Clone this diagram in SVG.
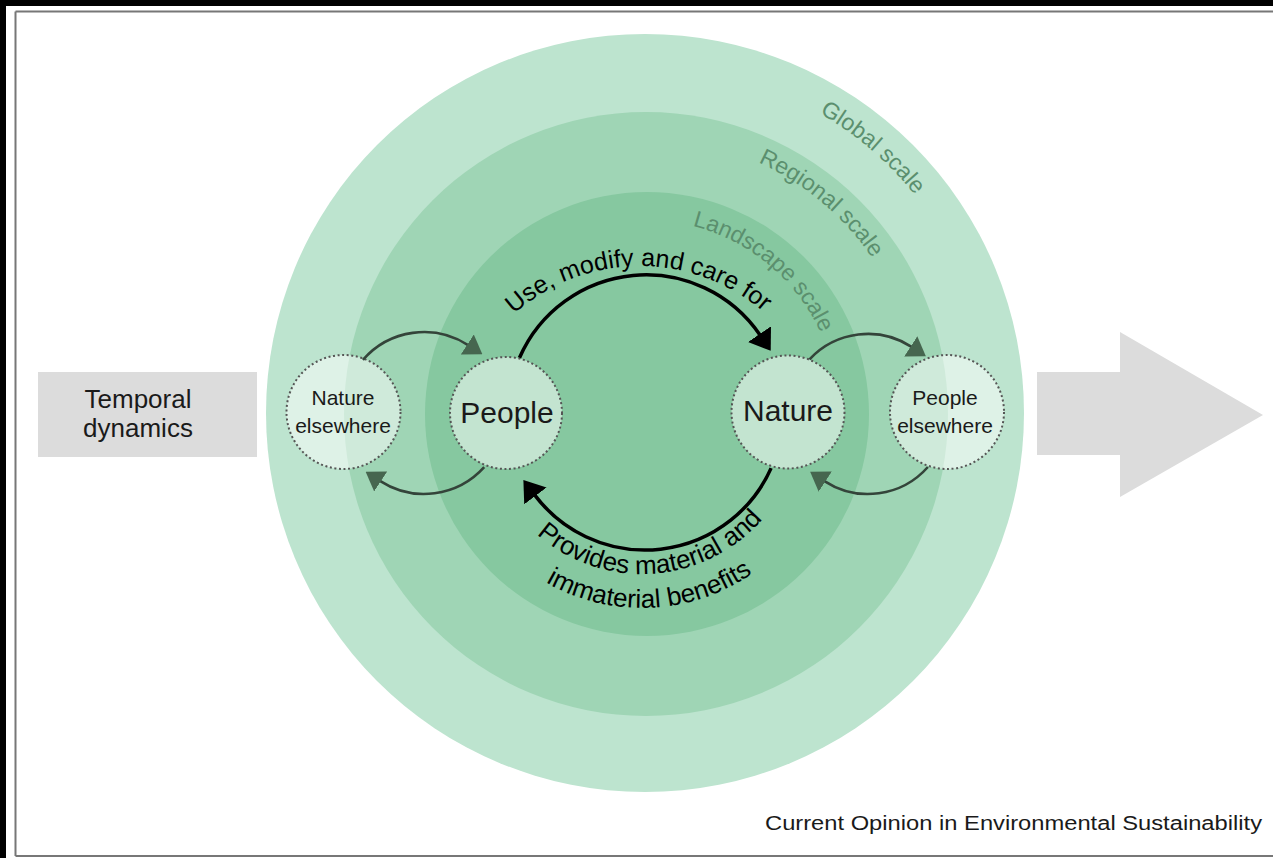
<svg xmlns="http://www.w3.org/2000/svg" width="1273" height="858" viewBox="0 0 1273 858">
  <style>
    text { font-family: "Liberation Sans", Arial, sans-serif; }
    .node { fill: #ffffff; fill-opacity: 0.5; stroke: #555; stroke-width: 2; stroke-dasharray: 2 2.6; }
    .nlabel { fill: #1a1a1a; text-anchor: middle; }
    .scale { fill: #5b8f6e; font-size: 23px; text-anchor: middle; }
    .main { fill: none; stroke: #000; stroke-width: 3.5; marker-end: url(#bigHead); }
    .side { fill: none; stroke: #34443a; stroke-width: 2.6; marker-end: url(#smallHead); }
    .arclabel { fill: #000; font-size: 25px; text-anchor: middle; }
    .arclabel2 { fill: #000; font-size: 26px; text-anchor: middle; }
  </style>
  <defs>
    <marker id="bigHead" markerUnits="userSpaceOnUse" viewBox="0 0 20 28" refX="1" refY="14" markerWidth="20" markerHeight="28" orient="auto">
      <path d="M0,0 L20,14 L0,28 Z" fill="#000"/>
    </marker>
    <marker id="smallHead" markerUnits="userSpaceOnUse" viewBox="0 0 18 24" refX="1" refY="12" markerWidth="18" markerHeight="24" orient="auto">
      <path d="M0,0 L18,12 L0,24 Z" fill="#46664f"/>
    </marker>
    <path id="pGlobal" d="M645,66 A347,347 0 0 1 986.7,352.8"/>
    <path id="pRegional" d="M645,138 A275,275 0 0 1 915.8,365.2"/>
    <path id="pLandscape" d="M611.5,222.9 A193,193 0 0 1 837.3,396.2"/>
    <path id="pTop" d="M451,455 A189,189 0 0 1 829,455"/>
    <path id="pBot1" d="M482,414 A160,160 0 0 0 802,414"/>
    <path id="pBot2" d="M448,414 A194,194 0 0 0 836,414"/>
  </defs>

  <!-- page frame -->
  <rect x="0" y="0" width="1273" height="858" fill="#ffffff"/>
  <rect x="0" y="0" width="1273" height="6" fill="#000"/>
  <rect x="0" y="0" width="6" height="858" fill="#000"/>
  <line x1="15.5" y1="11.5" x2="15.5" y2="856" stroke="#777" stroke-width="2"/>
  <line x1="15.5" y1="11.5" x2="1273" y2="11.5" stroke="#777" stroke-width="2"/>
  <line x1="15.5" y1="856" x2="1273" y2="856" stroke="#777" stroke-width="2"/>

  <!-- scale circles -->
  <g id="scales">
    <circle cx="645" cy="413" r="379" fill="#bde4cf"/>
    <circle cx="646" cy="414" r="302" fill="#9fd5b5"/>
    <circle cx="647" cy="414" r="222" fill="#86c8a0"/>
    <text class="scale"><textPath href="#pGlobal" startOffset="246">Global scale</textPath></text>
    <text class="scale"><textPath href="#pRegional" startOffset="192">Regional scale</textPath></text>
    <text class="scale"><textPath href="#pLandscape" startOffset="168">Landscape scale</textPath></text>
  </g>

  <!-- temporal dynamics arrow -->
  <g id="temporal">
    <rect x="38" y="372" width="219" height="85" fill="#dcdcdc"/>
    <path d="M1037,372 L1120,372 L1120,332 L1263,415 L1120,497 L1120,455 L1037,455 Z" fill="#dcdcdc"/>
    <text x="138" y="408" text-anchor="middle" font-size="26" fill="#1a1a1a">Temporal</text>
    <text x="138" y="437" text-anchor="middle" font-size="26" fill="#1a1a1a">dynamics</text>
  </g>

  <!-- nodes -->
  <g id="node-nature-elsewhere">
    <circle class="node" cx="343.5" cy="412" r="57"/>
    <text class="nlabel" x="343" y="405" font-size="21">Nature</text>
    <text class="nlabel" x="343" y="433" font-size="21">elsewhere</text>
  </g>
  <g id="node-people">
    <circle class="node" cx="506" cy="413" r="56"/>
    <text class="nlabel" x="507" y="423" font-size="30">People</text>
  </g>
  <g id="node-nature">
    <circle class="node" cx="788" cy="412" r="56.5"/>
    <text class="nlabel" x="788" y="421" font-size="30">Nature</text>
  </g>
  <g id="node-people-elsewhere">
    <circle class="node" cx="947" cy="412" r="57"/>
    <text class="nlabel" x="945" y="405" font-size="21">People</text>
    <text class="nlabel" x="945" y="433" font-size="21">elsewhere</text>
  </g>

  <!-- connectors -->
  <g id="connectors">
    <path class="main" d="M519.5,357.8 A138,138 0 0 1 760,335"/>
    <path class="main" d="M771.1,468.1 A138,138 0 0 1 534.8,495.1"/>
    <path class="side" d="M362.9,359.9 A81,81 0 0 1 468.1,345.1"/>
    <path class="side" d="M484.2,467.2 A81,81 0 0 1 379.9,480.9"/>
    <path class="side" d="M809.5,359.4 A80,80 0 0 1 911.6,346.9"/>
    <path class="side" d="M927.9,467 A80,80 0 0 1 824.4,481.1"/>
    <text class="arclabel"><textPath href="#pTop" startOffset="295">Use, modify and care for</textPath></text>
    <text class="arclabel2"><textPath href="#pBot1" startOffset="262">Provides material and</textPath></text>
    <text class="arclabel2"><textPath href="#pBot2" startOffset="313">immaterial benefits</textPath></text>
  </g>

  <text x="1262" y="830" text-anchor="end" font-size="20" fill="#1a1a1a" textLength="497" lengthAdjust="spacingAndGlyphs">Current Opinion in Environmental Sustainability</text>
</svg>
